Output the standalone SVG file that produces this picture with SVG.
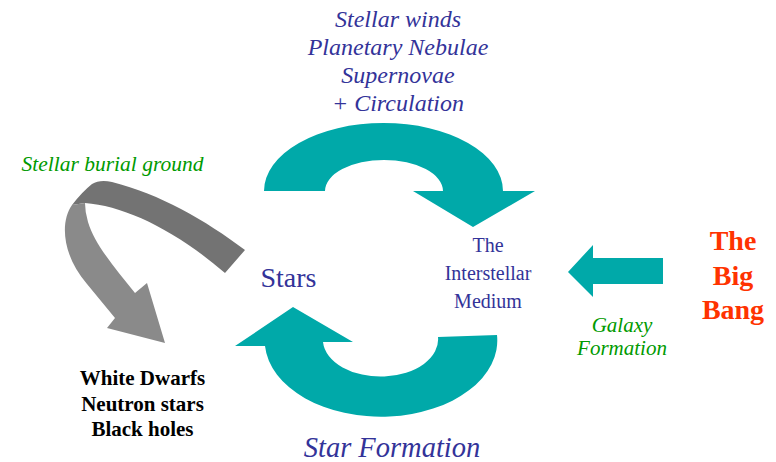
<svg xmlns="http://www.w3.org/2000/svg" width="776" height="462" viewBox="0 0 776 462">
<style>
.teal{fill:#00a9a9}
.blue{font-family:"Liberation Serif","Times New Roman",serif;fill:#333399;text-anchor:middle}
.it{font-style:italic}
.green{font-family:"Liberation Serif","Times New Roman",serif;fill:#009a00;font-style:italic;text-anchor:middle}
.red{font-family:"Liberation Serif","Times New Roman",serif;fill:#ff3300;font-weight:bold;text-anchor:middle;font-size:28px}
.blk{font-family:"Liberation Serif","Times New Roman",serif;fill:#000;font-weight:bold;text-anchor:middle;font-size:21px}
</style>
<rect width="776" height="462" fill="#fff"/>
<g id="connectors">
<path id="arrow-top" class="teal" d="M 264,191 A 119.5 68 0 0 1 503,191 L 535,191 L 473,227 L 413,191 L 443,191 A 59 31 0 0 0 325,191 Z"/>
<path id="arrow-bottom" class="teal" d="M 497,335 A 116 76 0 0 1 265,346 L 235,346 L 293,307 L 353,342 L 323,342 A 57.5 37 0 0 0 438,337 Z"/>
<path id="arrow-galaxy" class="teal" d="M 568,272 L 593,245 L 593,258 L 663,258 L 663,284 L 593,284 L 593,297 Z"/>
<path id="arrow-burial-dark" fill="#737373" d="M 245,250 C 205,220 160,194 112,182 Q 100,179 92,184 Q 82,192 72,205 L 85,203 C 125,206 175,230 225,273 Z"/>
<path id="arrow-burial-light" fill="#8a8a8a" d="M 72,205 C 60,222 62,255 87,284 L 115,318 L 107,328 L 165,343 L 147,283 L 135,293 C 115,268 95,245 88,222 Q 85,212 85,203 Z"/>
</g>
<g id="label-outflow">
<text x="398" y="27" class="blue it" font-size="24">Stellar winds</text>
<text x="398" y="55" class="blue it" font-size="24">Planetary Nebulae</text>
<text x="398" y="83" class="blue it" font-size="24">Supernovae</text>
<text x="398" y="111" class="blue it" font-size="24">+ Circulation</text>
</g>
<g id="label-burial"><text x="112.5" y="171" class="green" font-size="21.5">Stellar burial ground</text></g>
<g id="node-stars"><text x="288.5" y="287" class="blue" font-size="28">Stars</text></g>
<g id="node-ism">
<text x="488" y="252" class="blue" font-size="20">The</text>
<text x="488" y="280" class="blue" font-size="20">Interstellar</text>
<text x="488" y="308" class="blue" font-size="20">Medium</text>
</g>
<g id="node-bigbang">
<text x="733" y="250" class="red">The</text>
<text x="733" y="285" class="red">Big</text>
<text x="733" y="319" class="red">Bang</text>
</g>
<g id="label-galaxy">
<text x="622" y="332" class="green" font-size="21">Galaxy</text>
<text x="622" y="355" class="green" font-size="21">Formation</text>
</g>
<g id="node-remnants">
<text x="142.5" y="385" class="blk">White Dwarfs</text>
<text x="142.5" y="411" class="blk">Neutron stars</text>
<text x="142.5" y="436" class="blk">Black holes</text>
</g>
<g id="label-starformation"><text x="392" y="457" class="blue it" font-size="28.5">Star Formation</text></g>
</svg>
